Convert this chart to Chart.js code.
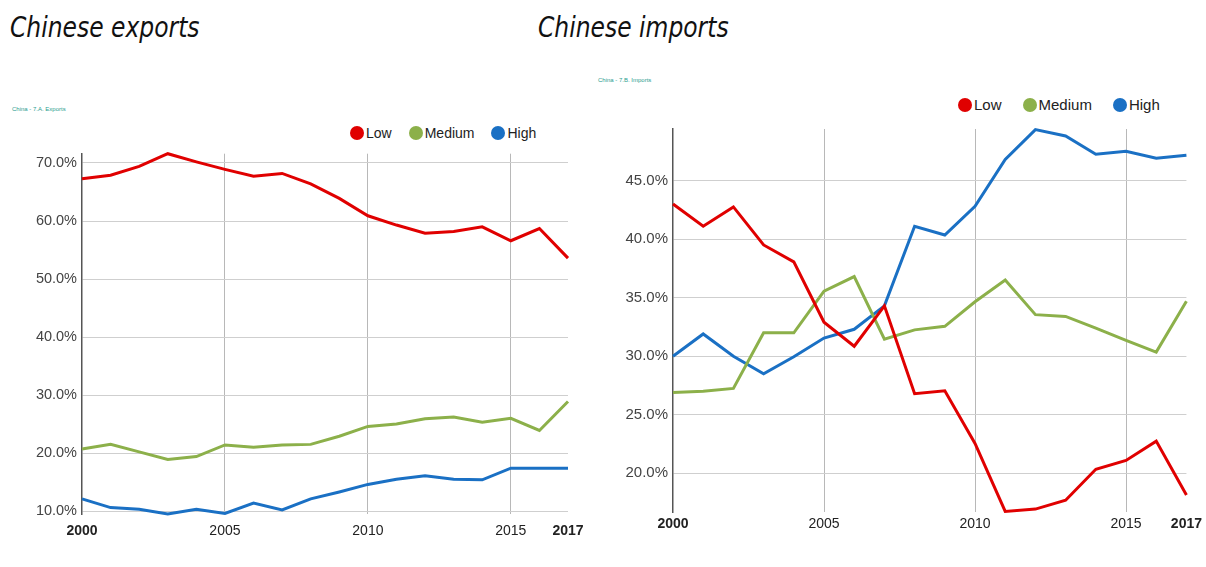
<!DOCTYPE html>
<html>
<head>
<meta charset="utf-8">
<script src="https://cdn.jsdelivr.net/npm/chart.js@4.4.1/dist/chart.umd.min.js"></script>
<style>
body { margin: 0; background: #fff; width: 1206px; height: 567px; position: relative; overflow: hidden; font-family: "Liberation Sans", Arial, sans-serif; }
.title { position: absolute; font-style: italic; font-family: "Liberation Sans Narrow", "DejaVu Sans Condensed", sans-serif; font-size: 28px; color: #111; white-space: nowrap; transform: scaleX(0.93); transform-origin: left top; }
.src { position: absolute; font-size: 6px; color: #2a9d8f; white-space: nowrap; }
.legend { position: absolute; display: flex; align-items: center; color: #222; white-space: nowrap; }
.legend span.dot { display: inline-block; width: 14px; height: 14px; border-radius: 50%; margin-right: 2px; }
.legend span.item { display: flex; align-items: center; }
canvas { position: absolute; }
</style>
</head>
<body>
<div class="title" style="left:10px; top:11px;">Chinese exports</div>
<div class="title" style="left:538px; top:11px;">Chinese imports</div>
<div class="src" style="left:12px; top:106px;">China - 7.A. Exports</div>
<div class="src" style="left:598px; top:77px;">China - 7.B. Imports</div>
<div class="legend" id="leg1" style="left:350px; top:125px; font-size:14px;"></div>
<div class="legend" id="leg2" style="left:958px; top:96px; font-size:15px;"></div>
<canvas id="exports" width="600" height="400" style="left:0; top:140px;"></canvas>
<canvas id="imports" width="616" height="425" style="left:590px; top:115px;"></canvas>
<script>
const years = ['2000', '2001', '2002', '2003', '2004', '2005', '2006', '2007', '2008',
    '2009', '2010', '2011', '2012', '2013', '2014', '2015', '2016', '2017'];
const shownYears = ['2000', '2005', '2010', '2015', '2017'];
const gridYears = ['2005', '2010', '2015'];
const boldYears = ['2000', '2017'];

const seriesNames = ['Low', 'Medium', 'High'];
const seriesColors = ['#e00000', '#8cb04a', '#1a70c4'];

// share of each technology level, %
const exportsLow = [67.3, 67.9, 69.4, 71.6, 70.2, 68.9, 67.7, 68.2, 66.4, 63.9, 60.9, 59.3, 57.9, 58.2, 59.0, 56.6, 58.7, 53.6];
const exportsMedium = [20.7, 21.5, 20.2, 18.9, 19.4, 21.4, 21.0, 21.4, 21.5, 22.9, 24.6, 25.0, 25.9, 26.2, 25.3, 26.0, 23.9, 28.9];
const exportsHigh = [12.1, 10.6, 10.3, 9.5, 10.3, 9.6, 11.4, 10.2, 12.1, 13.3, 14.6, 15.5, 16.1, 15.5, 15.4, 17.4, 17.4, 17.4];

const importsLow = [43.0, 41.1, 42.75, 39.5, 38.05, 32.9, 30.85, 34.3, 26.8, 27.05, 22.55, 16.75, 16.95, 17.7, 20.35, 21.1, 22.75, 18.15];
const importsMedium = [26.9, 27.0, 27.25, 32.0, 32.0, 35.55, 36.8, 31.45, 32.25, 32.55, 34.65, 36.5, 33.55, 33.4, 32.4, 31.35, 30.35, 34.7];
const importsHigh = [30.0, 31.9, 30.0, 28.5, 29.95, 31.55, 32.3, 34.3, 41.1, 40.35, 42.8, 46.8, 49.35, 48.8, 47.25, 47.5, 46.9, 47.15];

const exportsTicks = [10, 20, 30, 40, 50, 60, 70];
const importsTicks = [20, 25, 30, 35, 40, 45];

function buildLegend(id, gap) {
    const el = document.getElementById(id);
    for (let i = 0; i < seriesNames.length; i++) {
        const item = document.createElement('span');
        item.className = 'item';
        if (i > 0) item.style.marginLeft = gap + 'px';
        item.innerHTML = `<span class="dot" style="background:${seriesColors[i]}"></span>${seriesNames[i]}`;
        el.appendChild(item);
    }
}

function makeChart(id, data, ticks, o) {
    return new Chart(document.getElementById(id), {
        type: 'line',
        data: {
            labels: years,
            datasets: data.map((d, i) => ({
                label: seriesNames[i],
                data: d,
                borderColor: seriesColors[i],
                borderWidth: 3,
                pointRadius: 0,
                tension: 0,
                clip: false
            }))
        },
        options: {
            responsive: false,
            animation: false,
            devicePixelRatio: 1,
            layout: { padding: { top: o.padTop, right: o.padRight, left: 0, bottom: 0 } },
            plugins: { legend: { display: false }, tooltip: { enabled: false } },
            scales: {
                x: {
                    type: 'category',
                    border: { display: false },
                    grid: {
                        drawTicks: false,
                        color: c => gridYears.includes(years[c.index]) ? '#b8b8b8' : 'rgba(0,0,0,0)'
                    },
                    ticks: {
                        autoSkip: false,
                        maxRotation: 0,
                        padding: o.xPad,
                        color: '#222',
                        font: c => ({
                            family: '"Liberation Sans", Arial, sans-serif',
                            size: 14,
                            weight: boldYears.includes(years[c.index]) ? 'bold' : 'normal'
                        }),
                        callback: (v, i) => shownYears.includes(years[i]) ? years[i] : ''
                    },
                    afterFit: s => { s.height = o.xHeight; }
                },
                y: {
                    min: o.min,
                    max: o.max,
                    border: { display: true, color: '#555', width: 1.5 },
                    grid: { drawTicks: false, color: '#cfcfcf' },
                    afterBuildTicks: s => { s.ticks = ticks.map(v => ({ value: v })); },
                    ticks: {
                        padding: 5,
                        color: '#444',
                        font: { family: '"Liberation Sans", Arial, sans-serif', size: o.yFont },
                        callback: v => v.toFixed(1) + '%'
                    },
                    afterFit: s => { s.width = o.yWidth; }
                }
            }
        }
    });
}

buildLegend('leg1', 17);
buildLegend('leg2', 21);

makeChart('exports', [exportsLow, exportsMedium, exportsHigh], exportsTicks,
    { min: 9.5, max: 71.6, padTop: 12, padRight: 32, xHeight: 26, xPad: 9, yWidth: 82, yFont: 14.5 });
makeChart('imports', [importsLow, importsMedium, importsHigh], importsTicks,
    { min: 16.7, max: 49.4, padTop: 10, padRight: 19, xHeight: 28, xPad: 4, yWidth: 83, yFont: 15 });
</script>
</body>
</html>
